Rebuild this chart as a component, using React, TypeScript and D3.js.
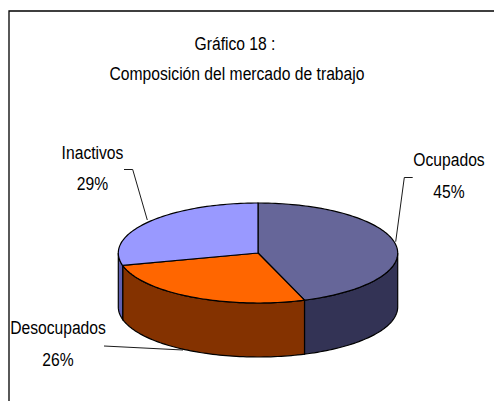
import React from "react";
import * as d3 from "d3";

const categories = ["Ocupados", "Desocupados", "Inactivos"];
const values = [44.6, 26.4, 29];
const topColors = ["#666699", "#FF6600", "#9999FF"];
const sideColors = ["#333355", "#843200", "#5F5FB0"];
const titleLines = ["Gráfico 18 :", "Composición del mercado de trabajo"];
const FONT = "'Liberation Sans', sans-serif";
const FS = 18;
const SX = 0.87;

const cx = 258, cy = 253, rx = 139.7, ry = 50, depth = 54;
const x = d3.scaleLinear().domain([-1, 1]).range([cx - rx, cx + rx]);
const y = d3.scaleLinear().domain([-1, 1]).range([cy - ry, cy + ry]);
const px = (a: number) => x(Math.sin(a));
const py = (a: number, d = 0) => y(-Math.cos(a)) + d;

const arcs = d3.pie<number>().sort(null)(values);
const line = d3.line();

function sample(a0: number, a1: number, d = 0): [number, number][] {
  const n = Math.max(2, Math.ceil(Math.abs(a1 - a0) * 40));
  return d3.range(n + 1).map((i) => {
    const a = a0 + ((a1 - a0) * i) / n;
    return [px(a), py(a, d)] as [number, number];
  });
}

const slices = arcs.map((a) => line([[cx, cy], ...sample(a.startAngle, a.endAngle)]) + "Z");

// side wall: visible where the rim faces down (PI/2 .. 3PI/2)
const walls = arcs.map((a) => {
  const s = Math.max(a.startAngle, Math.PI / 2);
  const e = Math.min(a.endAngle, (3 * Math.PI) / 2);
  if (e <= s) return null;
  return line([...sample(s, e), ...sample(e, s, depth)]) + "Z";
});

const labels = [
  { i: 0, x: 449, y: 166, pctY: 198 },
  { i: 1, x: 58, y: 334, pctY: 366 },
  { i: 2, x: 92.5, y: 159, pctY: 190 },
];
const leaders = [
  [[412.7, 177.5], [404.3, 177.5], [395.7, 241.7]],
  [[104, 346], [183, 350]],
  [[124, 169.5], [132.7, 169.5], [147.3, 220]],
];

function Txt({ x: tx, y: ty, children }: { x: number; y: number; children: React.ReactNode }) {
  return (
    <text transform={`translate(${tx},${ty}) scale(${SX},1)`} textAnchor="middle" fontFamily={FONT} fontSize={FS} fill="#000">
      {children}
    </text>
  );
}

export default function App() {
  return (
    <svg width={494} height={401} style={{ position: "absolute", left: 0, top: 0 }}>
      <rect width={494} height={401} fill="#fff" />
      <path d="M9,401V11H494" fill="none" stroke="#000" strokeWidth={1.3} />
      {titleLines.map((t, i) => (
        <Txt key={t} x={i ? 237 : 235} y={i ? 80 : 50}>{t}</Txt>
      ))}
      {walls.map((d, i) => d && <path key={i} d={d} fill={sideColors[i]} stroke="#000" strokeWidth={1.2} />)}
      {slices.map((d, i) => <path key={i} d={d} fill={topColors[i]} stroke="#000" strokeWidth={1.2} />)}
      {leaders.map((l, i) => (
        <path key={i} d={line(l as [number, number][])!} fill="none" stroke="#000" strokeWidth={0.9} />
      ))}
      {labels.map((l) => (
        <g key={l.i}>
          <Txt x={l.x} y={l.y}>{categories[l.i]}</Txt>
          <Txt x={l.x} y={l.pctY}>{Math.round(values[l.i])}%</Txt>
        </g>
      ))}
    </svg>
  );
}
